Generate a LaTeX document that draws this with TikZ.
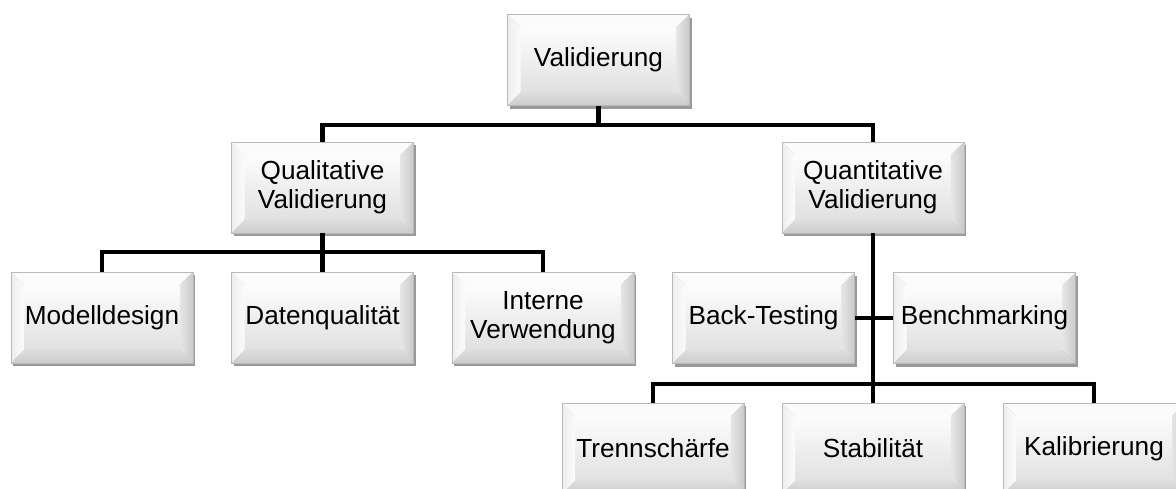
\documentclass[tikz,border=0pt]{standalone}
\usepackage{fontspec}
\setmainfont{Liberation Sans}
\usetikzlibrary{shadows}
\newcommand{\bevw}{0.26cm}
\tikzset{
		bevelbox/.style={rectangle, draw=gray!55, line width=0.4pt,
			minimum width=3.64cm, minimum height=1.82cm, inner sep=0pt, align=center,
			font=\fontsize{14.9}{16.6}\selectfont,
			drop shadow={shadow xshift=1.3pt, shadow yshift=-1.8pt, fill=black, opacity=0.4},
			path picture={
				\path (path picture bounding box.north west) coordinate (pnw)
				      (path picture bounding box.north east) coordinate (pne)
				      (path picture bounding box.south west) coordinate (psw)
				      (path picture bounding box.south east) coordinate (pse);
				\path ([shift={(\bevw,-\bevw)}]pnw) coordinate (inw)
				      ([shift={(-\bevw,-\bevw)}]pne) coordinate (ine)
				      ([shift={(\bevw,\bevw)}]psw) coordinate (isw)
				      ([shift={(-\bevw,\bevw)}]pse) coordinate (ise);
				\shade[top color=gray!2, bottom color=gray!24] (inw) rectangle (ise);
				\fill[gray!3] (pnw) -- (pne) -- (ine) -- (inw) -- cycle;
				\shade[left color=gray!14, right color=gray!3] (pnw) -- (inw) -- (isw) -- (psw) -- cycle;
				\shade[left color=gray!20, right color=gray!42] (pne) -- (ine) -- (ise) -- (pse) -- cycle;
				\shade[top color=gray!26, bottom color=gray!40] (psw) -- (isw) -- (ise) -- (pse) -- cycle;
			}},
		conn/.style={line width=2.4pt, black}
	}
\begin{document}
\begin{tikzpicture}[x=0.02cm, y=-0.02cm]
	\useasboundingbox (0,0) rectangle (1176,489);
	\node[bevelbox] (val)   at (598.5,60)  {Validierung};
	\node[bevelbox] (qual)  at (322.5,187.5) {Qualitative\\Validierung};
	\node[bevelbox] (quant) at (873,187.5) {Quantitative\\Validierung};
	\node[bevelbox] (mod)   at (102,317.5) {Modelldesign};
	\node[bevelbox] (dat)   at (322.5,317.5) {Datenqualität};
	\node[bevelbox] (int)   at (543,317.5) {Interne\\Verwendung};
	\node[bevelbox] (back)  at (763.5,318) {Back-Testing};
	\node[bevelbox] (bench) at (984.5,318) {Benchmarking};
	\node[bevelbox] (trenn) at (653,448.5) {Trennschärfe};
	\node[bevelbox] (stab)  at (873,448.5) {Stabilität};
	\node[bevelbox] (kal)   at (1094,448.5) {Kalibrierung};

	\draw[conn] (val.south) -- ++(0,19) coordinate (j0) -| (qual.north);
	\draw[conn] (j0) -| (quant.north);
	\draw[conn] (qual.south) -- ++(0,19) coordinate (j1) -| (mod.north);
	\draw[conn] (j1) -| (int.north);
	\draw[conn] (j1) -- (dat.north);
	\draw[conn] (quant.south) -- (stab.north);
	\draw[conn] (back.east) -- (bench.west);
	\path (quant.south) ++(0,151) coordinate (j2);
	\draw[conn] (trenn.north) |- (j2) -| (kal.north);
\end{tikzpicture}
\end{document}
